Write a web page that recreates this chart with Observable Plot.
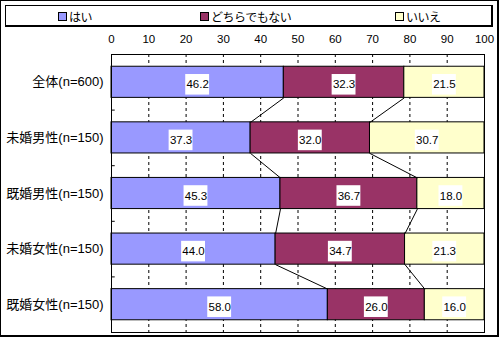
<!DOCTYPE html>
<html><head><meta charset="utf-8">
<script src="https://cdn.jsdelivr.net/npm/d3@7"></script>
<script src="https://cdn.jsdelivr.net/npm/@observablehq/plot@0.6"></script>
<style>
html,body{margin:0;padding:0;background:#fff;}
#wrap{position:relative;width:500px;height:337px;overflow:hidden;}
#outer{position:absolute;left:0;top:0;width:499px;height:337px;box-sizing:border-box;border-left:1px solid #000;border-top:1px solid #000;border-right:2px solid #000;border-bottom:2px solid #000;pointer-events:none;}
#legend{position:absolute;left:5px;top:5px;width:488px;height:22px;box-sizing:border-box;border:1px solid #000;border-right-width:2px;border-bottom-width:2px;background:#fff;font-family:"Noto Sans CJK JP",sans-serif;font-size:12px;}
.item{position:absolute;top:1px;display:flex;align-items:center;height:18px;letter-spacing:-0.5px;}
.sw{width:7px;height:7px;border:1px solid #000;margin-right:2px;}
</style></head>
<body><div id="wrap"></div>
<script>
const categories = ["全体(n=600)", "未婚男性(n=150)", "既婚男性(n=150)", "未婚女性(n=150)", "既婚女性(n=150)"];
const series = ["はい", "どちらでもない", "いいえ"];
const colors = ["#9999FF", "#993366", "#FFFFCC"];
const hai = [46.2, 37.3, 45.3, 44.0, 58.0];
const dochira = [32.3, 32.0, 36.7, 34.7, 26.0];
const iie = [21.5, 30.7, 18.0, 21.3, 16.0];
const xTicks = [0, 10, 20, 30, 40, 50, 60, 70, 80, 90, 100];

const values = [hai, dochira, iie];
const segs = [];
const cums = categories.map(() => [0]);
categories.forEach((c, i) => {
  let acc = 0;
  series.forEach((s, k) => {
    const v = values[k][i];
    segs.push({i, s, v, x1: acc, x2: acc + v, mid: acc + v / 2});
    acc += v;
    cums[i].push(acc);
  });
});
const links = [];
for (let i = 0; i < categories.length - 1; i++) {
  for (let k = 1; k <= 2; k++) links.push({i, xa: cums[i][k], xb: cums[i + 1][k]});
}
const h = 0.28;
const fontLat = '"Liberation Sans","Noto Sans CJK JP",sans-serif';

const chart = Plot.plot({
  width: 500, height: 337,
  marginTop: 54, marginLeft: 111, marginRight: 16, marginBottom: 5,
  style: {fontFamily: fontLat, fontSize: "12px", color: "#000", background: "transparent"},
  x: {domain: [0, 100]},
  y: {domain: [-0.5, categories.length - 0.5], reverse: true},
  color: {domain: series, range: colors},
  marks: [
    Plot.ruleX(xTicks.slice(1, -1), {stroke: "#000", strokeDasharray: "3,3", strokeWidth: 1}),
    Plot.rect(segs, {x1: "x1", x2: "x2", y1: d => d.i - h, y2: d => d.i + h, fill: "s", stroke: "#000", strokeWidth: 1}),
    Plot.link(links, {x1: "xa", x2: "xb", y1: d => d.i + h, y2: d => d.i + 1 - h, stroke: "#000", strokeWidth: 1}),
    Plot.rect(segs, {x1: d => d.mid - 3.2, x2: d => d.mid + 3.2, y1: d => d.i - 0.14, y2: d => d.i + 0.23, fill: "#fff"}),
    Plot.text(segs, {x: "mid", y: d => d.i + 0.045, text: d => d.v.toFixed(1), fill: "#000", fontSize: 11.5}),
    Plot.ruleY(d3.range(0.5, categories.length - 1, 1), {x1: 0, x2: 1, stroke: "#000"}),
    Plot.frame({stroke: "#000"}),
    Plot.axisX({anchor: "top", ticks: xTicks, tickSize: 0, tickPadding: 12, label: null, fontSize: 11.5}),
    Plot.axisY({ticks: d3.range(categories.length), tickFormat: i => categories[i], tickSize: 0, tickPadding: 8, label: null, fontSize: 13})
  ]
});
const wrap = document.getElementById("wrap");
wrap.appendChild(chart);
const outer = document.createElement("div"); outer.id = "outer"; wrap.appendChild(outer);
const legend = document.createElement("div"); legend.id = "legend";
const lx = [52, 194, 389];
series.forEach((s, k) => {
  const it = document.createElement("div"); it.className = "item"; it.style.left = lx[k] + "px";
  const sw = document.createElement("div"); sw.className = "sw"; sw.style.background = colors[k];
  const t = document.createElement("span"); t.textContent = s;
  it.appendChild(sw); it.appendChild(t); legend.appendChild(it);
});
wrap.appendChild(legend);
</script></body></html>
